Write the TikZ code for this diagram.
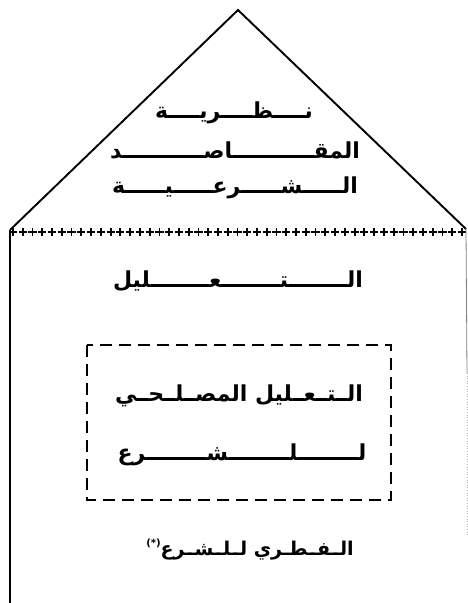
\documentclass[tikz,border=0pt]{standalone}
\usepackage{fontspec}
\newfontfamily\arabicfont[Script=Arabic]{DejaVu Sans}
\TeXXeTstate=1
\newsavebox\tatbox
% kashida filler: a rule at the exact height of the tatweel stroke
\newcommand{\kf}{\kern-\wd\tatbox\leaders\hrule height\ht\tatbox depth\dp\tatbox\hfill\kern-\wd\tatbox}
% a line of Arabic text set to a given width
\newcommand{\arfit}[2]{\sbox\tatbox{ـ}\hbox to #1pt{#2}}
\tikzset{
  wall/.style={line width=2.2pt},
  roof/.style={line width=1.9pt, line join=miter},
  crossmark/.style={line width=1.8pt},
  dashbox/.style={line width=1.8pt, dash pattern=on 12pt off 7pt},
  artext/.style={inner sep=0pt, anchor=base, font=\fontsize{22}{26}\arabicfont\bfseries},
  artextsmall/.style={artext, font=\fontsize{19}{23}\arabicfont\bfseries},
}
\begin{document}
\begin{tikzpicture}[x=1pt,y=-1pt]
\useasboundingbox (0,0) rectangle (468,603);
\fill[white] (0,0) rectangle (468,603);
\coordinate (apex) at (238,10);
\coordinate (bl) at (10,230);
\coordinate (br) at (466,229);
\coordinate (blb) at (10,603);
\coordinate (brm) at (467,373);
\coordinate (brb) at (467,535);
% roof
\draw[roof] (bl) -- (apex) -- (br);
% cross line
\foreach \i in {0,...,46} {
  \pgfmathsetmacro\xx{13+\i*9.76}
  \draw[crossmark] (\xx-4.1,232) -- (\xx+4.1,232) (\xx,228) -- (\xx,236);
}
% walls
\draw[wall] (bl) -- (blb);
\draw[gray, line width=0.8pt] (br) -- (brm);
\draw[gray!60, line width=0.6pt, dotted] (brm) -- (brb);
% dashed box
\draw[dashbox] (87,345) rectangle (391,500);
% texts in the roof
\node[artext] (t1) at (234,118) {\arfit{158}{\beginR نـ\kf ـظـ\kf ـريـ\kf ـة\endR}};
\node[artext] (t2) at (235,158) {\arfit{250}{\beginR المقـ\kf ـاصـ\kf ـد\endR}};
\node[artext] (t3) at (235,193) {\arfit{246}{\beginR الـ\kf ـشـ\kf ـرعـ\kf ـيـ\kf ـة\endR}};
% texts in the house
\node[artext] (t4) at (238,287) {\arfit{250}{\beginR الـ\kf ـتـ\kf ـعـ\kf ـليل\endR}};
\node[artext] (t5) at (239,401) {\arfit{248}{\beginR الـ\kf ـتـ\kf ـعـ\kf ـليل المصـ\kf ـلـ\kf ـحـ\kf ـي\endR}};
\node[artext] (t6) at (242,460) {\arfit{249}{\beginR لـ\kf ـلـ\kf ـشـ\kf ـرع\endR}};
\node[artextsmall] (t7) at (250,555) {\raisebox{9pt}{\fontsize{10}{12}\selectfont\bfseries(*)}\arfit{193}{\beginR الـ\kf ـفـ\kf ـطـري لـ\kf ـلـ\kf ـشـ\kf ـرع\endR}};
\end{tikzpicture}
\end{document}
